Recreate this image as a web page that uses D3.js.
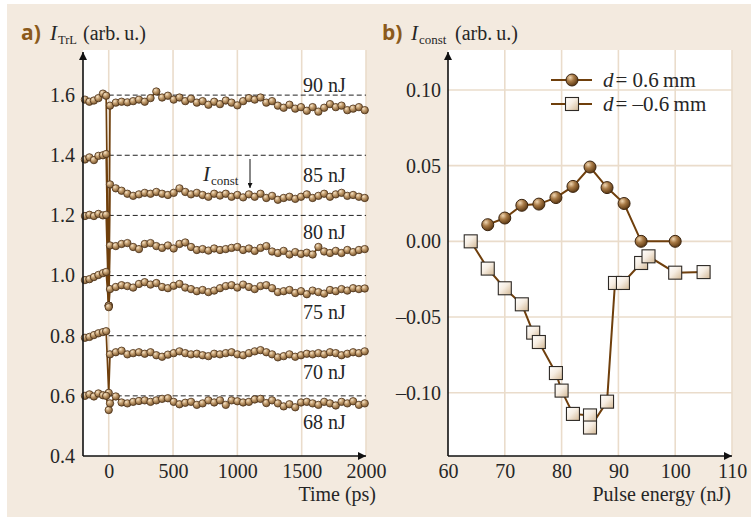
<!DOCTYPE html>
<html><head><meta charset="utf-8">
<script src="https://cdn.jsdelivr.net/npm/d3@7"></script>
<style>html,body{margin:0;padding:0;background:#fff}</style>
</head><body><div id="chart"></div>
<script>
// ---- Panel a: transient reflectivity traces ----
const preTimes = [-185, -150, -115, -80, -45, -20];
const dipTime = 0;
const postTimes = [10, 55, 100, 145, 190, 235, 280, 325, 370, 415, 460, 505, 550, 595, 640,
  685, 730, 775, 820, 865, 910, 955, 1000, 1045, 1090, 1135, 1180, 1225, 1270, 1315,
  1360, 1405, 1450, 1495, 1540, 1585, 1630, 1675, 1720, 1765, 1810, 1855, 1900, 1945, 1990];
const energyLabels = ["90 nJ", "85 nJ", "80 nJ", "75 nJ", "70 nJ", "68 nJ"];

const pre90 = [1.585, 1.578, 1.582, 1.590, 1.605, 1.598];
const pre85 = [1.386, 1.393, 1.384, 1.398, 1.400, 1.404];
const pre80 = [1.198, 1.202, 1.198, 1.205, 1.200, 1.202];
const pre75 = [0.985, 0.988, 0.995, 1.002, 1.008, 1.012];
const pre70 = [0.793, 0.796, 0.802, 0.808, 0.812, 0.815];
const pre68 = [0.600, 0.605, 0.598, 0.608, 0.602, 0.600];

const dipValues = [0.90, 0.90, 0.90, 0.895, 0.61, 0.553];

const post90 = [1.565,1.575,1.578,1.576,1.580,1.585,1.578,1.590,1.612,1.592,1.598,1.585,1.592,1.580,1.588,1.575,1.580,1.568,1.578,1.570,1.582,1.575,1.566,1.580,1.590,1.585,1.592,1.575,1.580,1.565,1.558,1.568,1.555,1.560,1.548,1.560,1.545,1.558,1.570,1.560,1.565,1.550,1.555,1.560,1.550];
const post85 = [1.303,1.290,1.282,1.272,1.265,1.270,1.275,1.272,1.278,1.272,1.268,1.275,1.290,1.278,1.270,1.275,1.268,1.262,1.272,1.266,1.272,1.262,1.268,1.260,1.270,1.262,1.272,1.258,1.265,1.252,1.258,1.262,1.255,1.262,1.270,1.258,1.265,1.272,1.262,1.270,1.275,1.265,1.268,1.262,1.258];
const post80 = [1.100,1.098,1.105,1.108,1.095,1.088,1.105,1.108,1.098,1.092,1.100,1.090,1.105,1.110,1.095,1.085,1.088,1.083,1.090,1.085,1.088,1.092,1.095,1.085,1.090,1.082,1.092,1.098,1.080,1.075,1.082,1.070,1.078,1.072,1.076,1.070,1.095,1.080,1.075,1.082,1.075,1.085,1.078,1.085,1.088];
const post75 = [0.955,0.962,0.968,0.965,0.960,0.972,0.978,0.970,0.975,0.962,0.958,0.966,0.972,0.960,0.955,0.948,0.952,0.945,0.950,0.958,0.965,0.968,0.960,0.970,0.962,0.955,0.965,0.968,0.958,0.945,0.948,0.952,0.942,0.948,0.938,0.950,0.945,0.940,0.952,0.948,0.955,0.950,0.958,0.955,0.957];
const post70 = [0.738,0.745,0.750,0.738,0.742,0.745,0.740,0.745,0.735,0.730,0.737,0.742,0.748,0.742,0.738,0.740,0.735,0.732,0.740,0.738,0.742,0.745,0.738,0.735,0.742,0.748,0.752,0.745,0.738,0.728,0.732,0.738,0.730,0.735,0.740,0.738,0.742,0.738,0.745,0.742,0.735,0.740,0.745,0.742,0.748];
const post68 = [0.575,0.598,0.578,0.575,0.580,0.583,0.585,0.580,0.585,0.590,0.592,0.580,0.572,0.577,0.580,0.570,0.575,0.585,0.578,0.585,0.570,0.585,0.582,0.578,0.580,0.588,0.590,0.576,0.585,0.575,0.565,0.572,0.562,0.578,0.580,0.575,0.570,0.580,0.575,0.568,0.580,0.575,0.582,0.570,0.575];

const preSets = [pre90, pre85, pre80, pre75, pre70, pre68];
const postSets = [post90, post85, post80, post75, post70, post68];

const refLevels = [1.6, 1.4, 1.2, 1.0, 0.8, 0.6];
const labelLevels = [1.61, 1.311, 1.121, 0.855, 0.656, 0.49];
const labelTime = 1510;
const yTicksA = [0.4, 0.6, 0.8, 1.0, 1.2, 1.4, 1.6];
const xTicksA = [0, 500, 1000, 1500, 2000];

// ---- Panel b: constant component vs pulse energy ----
const energyPos = [67, 70, 73, 76, 79, 82, 85, 88, 91, 94, 100];
const constPos = [0.011, 0.0154, 0.0238, 0.0246, 0.0289, 0.0363, 0.0491, 0.0355, 0.025, 0, 0];
const energyNeg = [64, 67, 70, 73, 75, 76, 79, 80, 82, 85, 85, 88, 89.4, 90.8, 94, 95.3, 100, 105];
const constNeg = [0, -0.018, -0.031, -0.0416, -0.0603, -0.0665, -0.087, -0.0986, -0.114, -0.115, -0.123, -0.1059, -0.0275, -0.0275, -0.0143, -0.0099, -0.0207, -0.0203];
const legendLabels = ["= 0.6\u2009mm", "= \u20130.6\u2009mm"];
const yTicksB = [-0.10, -0.05, 0.00, 0.05, 0.10];
const xTicksB = [60, 70, 80, 90, 100, 110];

// ---- drawing ----
const W = 751, H = 520;
const serif = "'Liberation Serif','Times New Roman',serif";
const sans = "'Open Sans','Lato',sans-serif";
const brown = "#6f3f0c";
const grid = "#eadccb";
const txt = "#262626";
const fs = 20;

const svg = d3.select("#chart").append("svg").attr("width", W).attr("height", H)
  .style("font-family", serif);

const defs = svg.append("defs");
const gA = defs.append("radialGradient").attr("id", "ballA").attr("cx", "35%").attr("cy", "30%").attr("r", "70%");
gA.append("stop").attr("offset", "0%").attr("stop-color", "#f6e4c8");
gA.append("stop").attr("offset", "45%").attr("stop-color", "#c39d6e");
gA.append("stop").attr("offset", "100%").attr("stop-color", "#7c5a32");
const gB = defs.append("radialGradient").attr("id", "ballB").attr("cx", "35%").attr("cy", "30%").attr("r", "70%");
gB.append("stop").attr("offset", "0%").attr("stop-color", "#f0d6b2");
gB.append("stop").attr("offset", "45%").attr("stop-color", "#a87a46");
gB.append("stop").attr("offset", "100%").attr("stop-color", "#5e3a14");
const gS = defs.append("linearGradient").attr("id", "sq").attr("x1", "0%").attr("y1", "0%").attr("x2", "100%").attr("y2", "100%");
gS.append("stop").attr("offset", "0%").attr("stop-color", "#ffffff");
gS.append("stop").attr("offset", "45%").attr("stop-color", "#f6ede2");
gS.append("stop").attr("offset", "100%").attr("stop-color", "#d3b894");
const mk = defs.append("marker").attr("id", "arrowHead").attr("viewBox", "0 0 10 10")
  .attr("refX", 10).attr("refY", 5).attr("markerWidth", 16).attr("markerHeight", 8)
  .attr("markerUnits", "userSpaceOnUse").attr("orient", "auto");
mk.append("path").attr("d", "M0,0 L10,5 L0,10 Z").attr("fill", "#111");
const mk2 = defs.append("marker").attr("id", "smallArrow").attr("viewBox", "0 0 10 10")
  .attr("refX", 10).attr("refY", 5).attr("markerWidth", 7).attr("markerHeight", 5)
  .attr("markerUnits", "userSpaceOnUse").attr("orient", "auto");
mk2.append("path").attr("d", "M0,0 L10,5 L0,10 Z").attr("fill", "#111");

svg.append("rect").attr("width", W).attr("height", H).attr("fill", "#fff");
svg.append("rect").attr("x", 7).attr("y", 4).attr("width", W - 7).attr("height", 513).attr("fill", "#f3eadf");

const minusFmt = f => (d => f(d).replace("-", "\u2013").replace("\u2212", "\u2013"));

// ===== Panel a =====
const xA = d3.scaleLinear().domain([-200, 2000]).range([83, 366]);
const yA = d3.scaleLinear().domain([0.4, 1.75]).range([456, 50]);

svg.append("rect").attr("x", xA(-200)).attr("y", yA(1.75))
  .attr("width", xA(2000) - xA(-200)).attr("height", yA(0.4) - yA(1.75)).attr("fill", "#fff");

svg.append("g").selectAll("line").data(xTicksA).join("line")
  .attr("x1", d => xA(d)).attr("x2", d => xA(d)).attr("y1", yA(1.75)).attr("y2", yA(0.4))
  .attr("stroke", grid).attr("stroke-width", 1.6);

svg.append("g").selectAll("line").data(refLevels).join("line")
  .attr("x1", xA(0)).attr("x2", xA(2000)).attr("y1", d => yA(d)).attr("y2", d => yA(d))
  .attr("stroke", "#222").attr("stroke-width", 1).attr("stroke-dasharray", "5,3");

const seriesA = preSets.map((pre, i) => {
  const pts = pre.map((v, j) => [preTimes[j], v]);
  pts.push([dipTime, dipValues[i]]);
  postSets[i].forEach((v, j) => pts.push([postTimes[j], v]));
  return pts;
});

const lineA = d3.line().x(d => xA(d[0])).y(d => yA(d[1]));
seriesA.forEach(pts => {
  svg.append("path").attr("d", lineA(pts)).attr("fill", "none")
    .attr("stroke", brown).attr("stroke-width", 1.7);
});
seriesA.forEach(pts => {
  svg.append("g").selectAll("circle").data(pts).join("circle")
    .attr("cx", d => xA(d[0])).attr("cy", d => yA(d[1])).attr("r", 3.7)
    .attr("fill", "url(#ballA)").attr("stroke", "#4a3018").attr("stroke-width", 0.8);
});

svg.append("g").selectAll("text").data(energyLabels).join("text")
  .attr("x", xA(labelTime)).attr("y", (d, i) => yA(labelLevels[i]))
  .attr("font-size", fs).attr("fill", txt).text(d => d);

// I_const annotation
const ann = svg.append("text").attr("x", 203).attr("y", 181).attr("fill", txt);
ann.append("tspan").attr("font-style", "italic").attr("font-size", 21).text("I");
ann.append("tspan").attr("font-size", 13).attr("dx", 1).attr("dy", 4).text("const");
svg.append("line").attr("x1", 250).attr("x2", 250).attr("y1", 159).attr("y2", 188)
  .attr("stroke", "#111").attr("stroke-width", 1).attr("marker-end", "url(#smallArrow)");

const axAy = svg.append("g").attr("transform", `translate(${xA(-200)},0)`)
  .call(d3.axisLeft(yA).tickValues(yTicksA).tickFormat(d3.format(".1f")).tickSize(0).tickPadding(8));
const axAx = svg.append("g").attr("transform", `translate(0,${yA(0.4)})`)
  .call(d3.axisBottom(xA).tickValues(xTicksA).tickFormat(d3.format("d")).tickSize(0).tickPadding(8));
[axAy, axAx].forEach(a => {
  a.select(".domain").remove();
  a.selectAll("text").attr("font-family", serif).attr("font-size", fs).attr("fill", txt);
});
svg.append("line").attr("x1", xA(-200)).attr("x2", xA(-200)).attr("y1", yA(0.4)).attr("y2", 52)
  .attr("stroke", "#111").attr("stroke-width", 1.6).attr("marker-end", "url(#arrowHead)");
svg.append("line").attr("x1", xA(-200)).attr("x2", xA(2000)).attr("y1", yA(0.4)).attr("y2", yA(0.4))
  .attr("stroke", "#111").attr("stroke-width", 1.6).attr("marker-end", "url(#arrowHead)");

svg.append("text").attr("x", 376).attr("y", 501).attr("text-anchor", "end")
  .attr("font-size", fs).attr("fill", txt).text("Time (ps)");

const tA = svg.append("g");
tA.append("text").attr("x", 21).attr("y", 40).attr("font-family", sans).attr("font-weight", 700)
  .attr("font-size", 21).attr("fill", "#8b5a1b").text("a)");
const tA2 = tA.append("text").attr("x", 50).attr("y", 40).attr("fill", txt);
tA2.append("tspan").attr("font-style", "italic").attr("font-size", 21).text("I");
tA2.append("tspan").attr("font-size", 12.5).attr("dx", 1).attr("dy", 4).text("TrL");
tA2.append("tspan").attr("font-size", fs).attr("x", 83).attr("dy", -4).text("(arb.\u2009u.)");

// ===== Panel b =====
const xB = d3.scaleLinear().domain([60, 110]).range([448, 732]);
const yB = d3.scaleLinear().domain([-0.1418, 0.1264]).range([456, 50]);

svg.append("rect").attr("x", xB(60)).attr("y", yB(0.1264))
  .attr("width", xB(110) - xB(60)).attr("height", yB(-0.1418) - yB(0.1264)).attr("fill", "#fff");
svg.append("g").selectAll("line").data(xTicksB.slice(1)).join("line")
  .attr("x1", d => xB(d)).attr("x2", d => xB(d)).attr("y1", yB(0.1264)).attr("y2", yB(-0.1418))
  .attr("stroke", grid).attr("stroke-width", 1.6);
svg.append("g").selectAll("line").data(yTicksB).join("line")
  .attr("x1", xB(60)).attr("x2", xB(110)).attr("y1", d => yB(d)).attr("y2", d => yB(d))
  .attr("stroke", grid).attr("stroke-width", 1.6);

const lineB = d3.line().x(d => xB(d[0])).y(d => yB(d[1]));
const ptsPos = energyPos.map((e, i) => [e, constPos[i]]);
const ptsNeg = energyNeg.map((e, i) => [e, constNeg[i]]);

svg.append("path").attr("d", lineB(ptsNeg)).attr("fill", "none").attr("stroke", brown).attr("stroke-width", 2);
svg.append("path").attr("d", lineB(ptsPos)).attr("fill", "none").attr("stroke", brown).attr("stroke-width", 2);

const sq = 13;
svg.append("g").selectAll("rect").data(ptsNeg).join("rect")
  .attr("x", d => xB(d[0]) - sq / 2).attr("y", d => yB(d[1]) - sq / 2)
  .attr("width", sq).attr("height", sq)
  .attr("fill", "url(#sq)").attr("stroke", "#2e2a26").attr("stroke-width", 1.1);
svg.append("g").selectAll("circle").data(ptsPos).join("circle")
  .attr("cx", d => xB(d[0])).attr("cy", d => yB(d[1])).attr("r", 6)
  .attr("fill", "url(#ballB)").attr("stroke", "#3a2410").attr("stroke-width", 1);

// legend
const lg = svg.append("g");
[80, 104].forEach((ly, i) => {
  lg.append("line").attr("x1", 551).attr("x2", 592).attr("y1", ly).attr("y2", ly)
    .attr("stroke", brown).attr("stroke-width", 2);
  if (i === 0) {
    lg.append("circle").attr("cx", 572).attr("cy", ly).attr("r", 6)
      .attr("fill", "url(#ballB)").attr("stroke", "#3a2410").attr("stroke-width", 1);
  } else {
    lg.append("rect").attr("x", 572 - sq / 2).attr("y", ly - sq / 2).attr("width", sq).attr("height", sq)
      .attr("fill", "url(#sq)").attr("stroke", "#2e2a26").attr("stroke-width", 1.1);
  }
  const t = lg.append("text").attr("x", 603).attr("y", ly + 7).attr("font-size", 21).attr("fill", txt);
  t.append("tspan").attr("font-style", "italic").text("d");
  t.append("tspan").attr("dx", 2).text(legendLabels[i]);
});

const axBy = svg.append("g").attr("transform", `translate(${xB(60)},0)`)
  .call(d3.axisLeft(yB).tickValues(yTicksB).tickFormat(minusFmt(d3.format(".2f"))).tickSize(0).tickPadding(7));
const axBx = svg.append("g").attr("transform", `translate(0,${yB(-0.1418)})`)
  .call(d3.axisBottom(xB).tickValues(xTicksB).tickFormat(d3.format("d")).tickSize(0).tickPadding(8));
[axBy, axBx].forEach(a => {
  a.select(".domain").remove();
  a.selectAll("text").attr("font-family", serif).attr("font-size", fs).attr("fill", txt);
});
svg.append("line").attr("x1", xB(60)).attr("x2", xB(60)).attr("y1", yB(-0.1418)).attr("y2", 52)
  .attr("stroke", "#111").attr("stroke-width", 1.6).attr("marker-end", "url(#arrowHead)");
svg.append("line").attr("x1", xB(60)).attr("x2", xB(110)).attr("y1", yB(-0.1418)).attr("y2", yB(-0.1418))
  .attr("stroke", "#111").attr("stroke-width", 1.6).attr("marker-end", "url(#arrowHead)");

svg.append("text").attr("x", 731).attr("y", 501).attr("text-anchor", "end")
  .attr("font-size", fs).attr("fill", txt).text("Pulse energy (nJ)");

const tB = svg.append("g");
tB.append("text").attr("x", 382).attr("y", 40).attr("font-family", sans).attr("font-weight", 700)
  .attr("font-size", 21).attr("fill", "#8b5a1b").text("b)");
const tB2 = tB.append("text").attr("x", 411).attr("y", 40).attr("fill", txt);
tB2.append("tspan").attr("font-style", "italic").attr("font-size", 21).text("I");
tB2.append("tspan").attr("font-size", 13).attr("dx", 1).attr("dy", 4).text("const");
tB2.append("tspan").attr("font-size", fs).attr("x", 455).attr("dy", -4).text("(arb.\u2009u.)");
</script>
</body></html>
